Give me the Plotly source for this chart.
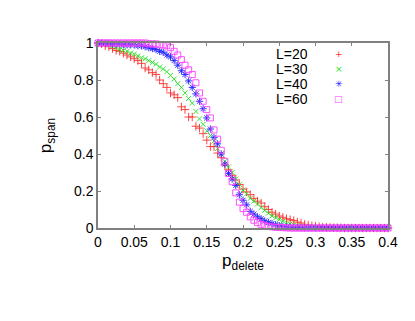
import plotly.graph_objects as go

# p_delete grid (0 .. 0.4, step 0.005)
p_delete = [
    0.000, 0.005, 0.010, 0.015, 0.020, 0.025, 0.030, 0.035, 0.040, 0.045,
    0.050, 0.055, 0.060, 0.065, 0.070, 0.075, 0.080, 0.085, 0.090, 0.095,
    0.100, 0.105, 0.110, 0.115, 0.120, 0.125, 0.130, 0.135, 0.140, 0.145,
    0.150, 0.155, 0.160, 0.165, 0.170, 0.175, 0.180, 0.185, 0.190, 0.195,
    0.200, 0.205, 0.210, 0.215, 0.220, 0.225, 0.230, 0.235, 0.240, 0.245,
    0.250, 0.255, 0.260, 0.265, 0.270, 0.275, 0.280, 0.285, 0.290, 0.295,
    0.300, 0.305, 0.310, 0.315, 0.320, 0.325, 0.330, 0.335, 0.340, 0.345,
    0.350, 0.355, 0.360, 0.365, 0.370, 0.375, 0.380, 0.385, 0.390, 0.395,
    0.400,
]

span_L20 = [
    1.000, 0.995, 0.985, 0.980, 0.970, 0.960, 0.955, 0.945, 0.935, 0.925,
    0.915, 0.905, 0.890, 0.865, 0.855, 0.840, 0.830, 0.800, 0.780, 0.760,
    0.730, 0.720, 0.705, 0.655, 0.640, 0.600, 0.600, 0.550, 0.540, 0.510,
    0.475, 0.440, 0.440, 0.405, 0.380, 0.340, 0.315, 0.285, 0.260, 0.235,
    0.210, 0.195, 0.180, 0.160, 0.145, 0.135, 0.115, 0.100, 0.085, 0.075,
    0.065, 0.058, 0.050, 0.045, 0.040, 0.032, 0.027, 0.020, 0.016, 0.012,
    0.010, 0.007, 0.005, 0.004, 0.003, 0.002, 0.002, 0.001, 0.000, 0.000,
    0.000, 0.000, 0.000, 0.000, 0.000, 0.000, 0.000, 0.000, 0.000, 0.000,
    0.000,
]

span_L30 = [
    1.000, 1.000, 0.995, 0.990, 0.985, 0.975, 0.965, 0.960, 0.955, 0.945,
    0.940, 0.930, 0.920, 0.915, 0.905, 0.895, 0.885, 0.870, 0.860, 0.845,
    0.825, 0.805, 0.780, 0.760, 0.730, 0.700, 0.675, 0.630, 0.590, 0.560,
    0.525, 0.500, 0.470, 0.430, 0.400, 0.360, 0.330, 0.300, 0.265, 0.235,
    0.205, 0.185, 0.160, 0.145, 0.130, 0.110, 0.095, 0.080, 0.065, 0.055,
    0.045, 0.037, 0.028, 0.022, 0.017, 0.012, 0.009, 0.006, 0.004, 0.003,
    0.002, 0.001, 0.000, 0.000, 0.000, 0.000, 0.000, 0.000, 0.000, 0.000,
    0.000, 0.000, 0.000, 0.000, 0.000, 0.000, 0.000, 0.000, 0.000, 0.000,
    0.000,
]

span_L40 = [
    1.000, 1.000, 1.000, 1.000, 0.995, 0.995, 0.995, 0.990, 0.990, 0.990,
    0.990, 0.985, 0.985, 0.980, 0.975, 0.970, 0.965, 0.955, 0.950, 0.935,
    0.925, 0.905, 0.880, 0.850, 0.830, 0.795, 0.760, 0.725, 0.685, 0.645,
    0.595, 0.535, 0.490, 0.455, 0.400, 0.345, 0.295, 0.265, 0.230, 0.180,
    0.150, 0.125, 0.090, 0.075, 0.060, 0.050, 0.038, 0.030, 0.024, 0.018,
    0.013, 0.009, 0.006, 0.004, 0.003, 0.002, 0.001, 0.000, 0.000, 0.000,
    0.000, 0.000, 0.000, 0.000, 0.000, 0.000, 0.000, 0.000, 0.000, 0.000,
    0.000, 0.000, 0.000, 0.000, 0.000, 0.000, 0.000, 0.000, 0.000, 0.000,
    0.000,
]

span_L60 = [
    1.000, 1.000, 1.000, 1.000, 1.000, 1.000, 1.000, 1.000, 1.000, 1.000,
    1.000, 1.000, 1.000, 1.000, 0.995, 0.995, 0.995, 0.990, 0.990, 0.985,
    0.975, 0.955, 0.935, 0.910, 0.880, 0.855, 0.830, 0.785, 0.730, 0.685,
    0.640, 0.595, 0.530, 0.480, 0.420, 0.360, 0.295, 0.250, 0.190, 0.140,
    0.105, 0.085, 0.060, 0.042, 0.030, 0.020, 0.013, 0.009, 0.006, 0.004,
    0.003, 0.002, 0.001, 0.000, 0.000, 0.000, 0.000, 0.000, 0.000, 0.000,
    0.000, 0.000, 0.000, 0.000, 0.000, 0.000, 0.000, 0.000, 0.000, 0.000,
    0.000, 0.000, 0.000, 0.000, 0.000, 0.000, 0.000, 0.000, 0.000, 0.000,
    0.000,
]

labels = ["L=20", "L=30", "L=40", "L=60"]
series = [span_L20, span_L30, span_L40, span_L60]
colors = ["#ff3030", "#20e020", "#2020ff", "#ff40ff"]
symbols = ["cross-thin-open", "x-thin-open", "asterisk-open", "square-open"]
sizes = [6, 5, 6, 6]
key_glyphs = ["+", "×", "✳", "□"]

FONT = "Liberation Sans, Arial, sans-serif"
GREY = "#808080"

fig = go.Figure()
for lab, ys, c, s, sz in zip(labels, series, colors, symbols, sizes):
    fig.add_scatter(x=p_delete, y=ys, name=lab, mode="markers", cliponaxis=False,
                    marker=dict(symbol=s, size=sz, color=c, line=dict(color=c, width=0.9)))

# gnuplot-style key: text right-aligned, sample glyph to its right
key_y = [0.94, 0.859, 0.778, 0.70]
for lab, c, g, ky in zip(labels, colors, key_glyphs, key_y):
    fig.add_annotation(x=0.731, y=ky, xref="paper", yref="paper", text=lab,
                       showarrow=False, xanchor="right", yanchor="middle", height=14,
                       font=dict(size=14, color="black", family=FONT))
    fig.add_annotation(x=0.831, y=ky, xref="paper", yref="paper", text=g,
                       showarrow=False, xanchor="center", yanchor="middle",
                       font=dict(size=9, color=c, family="DejaVu Sans"))

axis_common = dict(showline=True, mirror="ticks", linecolor=GREY, linewidth=1.5,
                   ticks="inside", ticklen=3, tickcolor=GREY, tickwidth=1,
                   showgrid=False, zeroline=False,
                   tickfont=dict(size=14, color="black", family=FONT))
# the page body adds an 8 px offset, so the figure is shrunk by that amount
fig.update_layout(
    width=407, height=313, showlegend=False,
    margin=dict(l=90, r=27, t=35, b=93),
    paper_bgcolor="white", plot_bgcolor="white",
    font=dict(family=FONT, size=14, color="black"),
    xaxis=dict(range=[0, 0.4], dtick=0.05, tickformat="~g",
               title=dict(text="p<sub>delete</sub>", standoff=6), **axis_common),
    yaxis=dict(range=[0, 1], dtick=0.2, tickformat="~g",
               title=dict(text="p<sub>span</sub>", standoff=18), **axis_common),
)
fig.write_html("out.html")
